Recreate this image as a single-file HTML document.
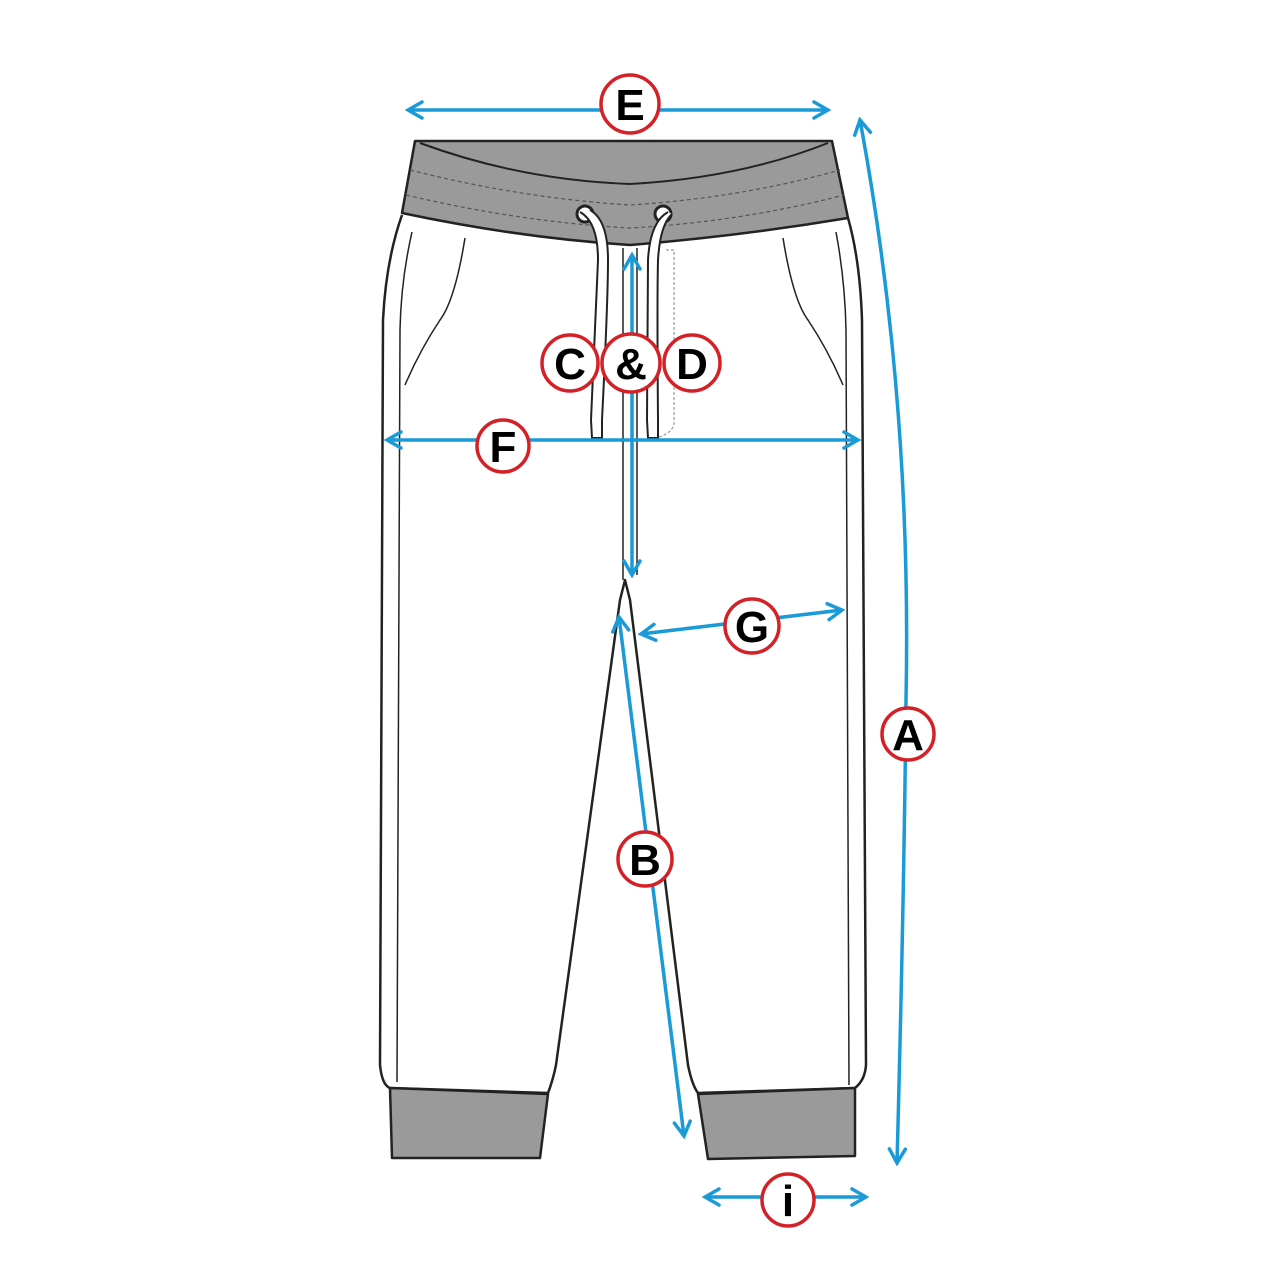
<!DOCTYPE html>
<html><head><style>body{margin:0;background:#fff}svg{display:block}</style></head><body>
<svg width="1271" height="1280" viewBox="0 0 1271 1280" xmlns="http://www.w3.org/2000/svg">
<defs>
<marker id="ah" viewBox="0 0 20 20" refX="17" refY="10" markerWidth="20" markerHeight="20" markerUnits="userSpaceOnUse" orient="auto-start-reverse">
<path d="M3,2 L17,10 L3,18" fill="none" stroke="#1a9ad6" stroke-width="3.5" stroke-linecap="round"/>
</marker>
</defs>
<g stroke="#222" stroke-width="2.5" fill="none" stroke-linejoin="round">
<!-- legs -->
<path d="M402,215 Q386,260 383,320 L380,1065 Q382,1085 390,1088 L548,1093 Q553,1080 556,1065 L620,600 L625,580 L630,600 L688,1065 Q692,1085 698,1093 L855,1088 Q865,1080 866,1065 L862,320 Q860,260 848,218" fill="#fff"/>
<path d="M412,232 Q401,280 400,330 L397,1082" stroke-width="1.5"/>
<path d="M836,232 Q845,280 846,330 L849,1085" stroke-width="1.5"/>
<!-- waistband -->
<path d="M415,141 L832,141 L848,218 Q740,236 630,245 Q520,238 402,213 Z" fill="#9a9a9a"/>
<path d="M420,143 Q520,180 630,184 Q740,178 828,143" stroke-width="2"/>
<path d="M410,170 Q520,198 630,205 Q740,198 840,170" stroke="#555" stroke-width="1.2" stroke-dasharray="4,3"/>
<path d="M406,195 Q520,222 630,228 Q740,222 844,195" stroke="#555" stroke-width="1.2" stroke-dasharray="4,3"/>
<!-- cuffs -->
<path d="M390,1088 L548,1094 L540,1158 L392,1158 Z" fill="#9a9a9a"/>
<path d="M698,1094 L855,1088 L855,1156 L708,1159 Z" fill="#9a9a9a"/>
<!-- pockets -->
<path d="M465,238 Q455,300 440,320 Q420,350 405,385" stroke-width="1.5"/>
<path d="M783,238 Q793,300 808,320 Q828,350 843,385" stroke-width="1.5"/>
<!-- fly -->
<path d="M623,248 L623,580 M637,248 L637,575" stroke-width="1.5"/>
<path d="M666,250 L674,250 L674,425 Q670,435 655,438" stroke="#999" stroke-width="1.2" stroke-dasharray="3,2"/>
<!-- drawstrings -->
<circle cx="585" cy="214" r="8" fill="#fff" stroke-width="3"/>
<circle cx="663" cy="214" r="8" fill="#fff" stroke-width="3"/>
<path d="M580,212 Q598,222 598,260 L591,420 L592,438 L602,438 L602,420 Q608,300 608,260 Q608,220 590,210" fill="#fff" stroke-width="2"/>
<path d="M668,212 Q650,222 648,260 L647,420 L648,438 L658,438 L658,420 Q657,300 658,260 Q660,225 672,214" fill="#fff" stroke-width="2"/>
</g>
<g stroke="#1a9ad6" stroke-width="3.5" fill="none" marker-start="url(#ah)" marker-end="url(#ah)">
<line x1="408" y1="110" x2="828" y2="110"/>
<path d="M860,120 Q912,400 906,700 Q904,900 897,1163"/>
<line x1="632" y1="255" x2="632" y2="575"/>
<line x1="387" y1="440" x2="858" y2="440"/>
<line x1="641" y1="634" x2="842" y2="610"/>
<line x1="619" y1="617" x2="684" y2="1136"/>
<line x1="705" y1="1197" x2="866" y2="1197"/>
</g>
<g font-family="Liberation Sans, sans-serif" font-weight="bold" font-size="44" text-anchor="middle" fill="#000">
<g stroke="#d42027" stroke-width="3.5" fill="#fff">
<circle cx="630" cy="104" r="29"/>
<circle cx="908" cy="734" r="26"/>
<circle cx="570" cy="363" r="28"/>
<circle cx="631" cy="363" r="29"/>
<circle cx="692" cy="363" r="28"/>
<circle cx="503" cy="446" r="26"/>
<circle cx="752" cy="626" r="27"/>
<circle cx="645" cy="859" r="27"/>
<circle cx="788" cy="1200" r="26"/>
</g>
<text x="630" y="120">E</text>
<text x="908" y="750">A</text>
<text x="570" y="379">C</text>
<text x="631" y="379">&amp;</text>
<text x="692" y="379">D</text>
<text x="503" y="462">F</text>
<text x="752" y="642">G</text>
<text x="645" y="875">B</text>
<text x="788" y="1216">i</text>
</g>
</svg>
</body></html>
